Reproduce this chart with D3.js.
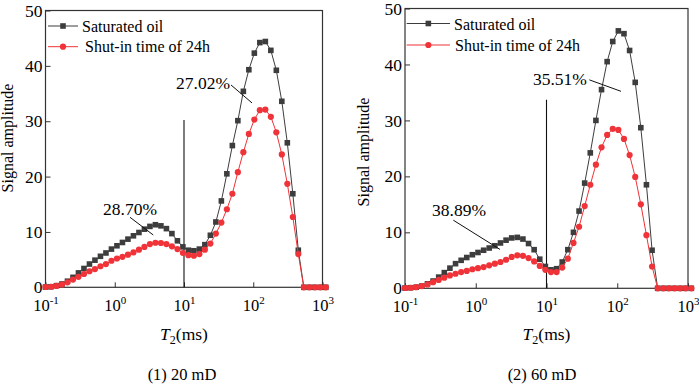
<!DOCTYPE html>
<html><head><meta charset="utf-8">
<script src="https://cdn.jsdelivr.net/npm/d3@7"></script>
<style>
body{margin:0;background:#fff}
svg{display:block}
svg text{font-family:"Liberation Serif","Tinos","Times New Roman","DejaVu Serif","Noto Serif",serif !important;fill:#000}
</style>
</head><body>
<svg id="chart" width="699" height="385" style="font-family:'Liberation Serif','DejaVu Serif',serif"></svg>
<script>
// ---- data ----
const t2 = [0.1,0.1201,0.1441,0.1730,0.2077,0.2494,0.2994,0.3594,0.4314,0.5179,0.6218,0.7464,0.8961,1.076,1.292,1.551,1.862,2.236,2.683,3.221,3.867,4.642,5.573,6.690,8.032,9.642,11.58,13.89,16.68,20.02,24.04,28.86,34.64,41.59,49.93,59.95,71.97,86.40,103.7,124.5,149.5,179.5,215.4,258.6,310.5,372.8,447.5,537.3,645.0,774.3,929.6,1116];
const sat20  = [0.05,0.1,0.3,0.6,1.1,1.8,2.6,3.4,4.2,4.9,5.6,6.2,6.9,7.5,8.1,8.7,9.3,9.9,10.5,11.0,11.3,11.1,10.6,9.7,8.4,7.3,6.7,6.6,6.9,7.7,9.4,11.8,15.6,20.5,25.6,30.1,35.4,39.3,42.3,44.2,44.4,42.8,39.2,33.6,26.1,16.9,6.7,0,0,0,0,0];
const shut20 = [0.05,0.1,0.25,0.5,0.9,1.4,1.9,2.4,2.9,3.3,3.8,4.2,4.8,5.2,5.5,5.9,6.3,6.8,7.3,7.8,8.05,8.0,7.8,7.4,6.9,6.2,5.8,5.7,6.0,6.8,7.9,9.7,11.7,14.1,16.9,20.8,24.4,27.7,30.3,32.0,32.1,30.8,28.0,24.0,18.7,12.7,6.0,0,0,0,0,0];
const sat60  = [0.05,0.1,0.2,0.4,0.8,1.3,2.0,2.8,3.6,4.4,5.0,5.5,6.0,6.4,6.8,7.2,7.6,8.1,8.6,9.0,9.1,8.8,8.0,6.9,5.2,3.9,3.3,3.5,4.7,6.9,10.0,13.8,18.8,24.2,30.0,35.5,40.5,44.1,46.0,45.5,42.5,36.8,28.7,18.5,6.8,0,0,0,0,0,0,0];
const shut60 = [0.05,0.1,0.2,0.4,0.7,1.1,1.5,1.9,2.3,2.6,2.9,3.1,3.4,3.6,3.8,4.1,4.4,4.7,5.1,5.6,5.9,5.8,5.4,4.8,4.0,3.3,2.9,2.9,3.7,5.3,8.1,11.0,14.7,18.5,22.1,25.2,27.4,28.5,28.3,26.7,23.8,19.9,15.0,9.5,3.9,0,0,0,0,0,0,0];
const seriesNames = ["Saturated oil","Shut-in time of 24h"];
const panelTitles = ["(1) 20 mD","(2) 60 mD"];
const yTicks = [0,10,20,30,40,50];
const xTickExps = [-1,0,1,2,3];
const yLabel = "Signal amplitude";
const cutoffT2 = 10;
const cutoffTop = [30.2, 33.7];
const annotLabels = [["28.70%","27.02%"],["38.89%","35.51%"]];
// annotation anchors in data units: [textT2, textVal, lineT2a, lineVa, lineT2b, lineVb]
const annotAnchors = [
  [[1.66,13.1,1.66,12.65,3.6,9.45],[18.8,35.8,47.7,36.55,96,33.3]],
  [[0.58,12.9,0.482,12.17,2.2,6.95],[15.5,36.4,40.3,37.25,113,35.2]]
];

// ---- layout ----
const FONT = "'Liberation Serif','Tinos','Times New Roman','DejaVu Serif',serif";
const svg = d3.select("#chart");
const colBlack = "#3d3d3d", colRed = "#ef3338";
const panels = [
  {x0:45.5, x1:322.5, yb:287.3, yt:10.5, sat:sat20, shut:shut20,
   leg:{l1:2.5, l2:32.5, tx1:36.5, tx2:39.5, y1:26, y2:46.7, b1:31.7, b2:52.3},
   ylab:{x:12.5, y:138}, title:{x:182, y:380}},
  {x0:405, x1:688, yb:288.3, yt:8.5, sat:sat60, shut:shut60,
   leg:{l1:1.7, l2:45, tx1:49, tx2:50, y1:23.5, y2:45, b1:29.5, b2:51},
   ylab:{x:369, y:152}, title:{x:542, y:380}}
];

panels.forEach((p, pi) => {
  const x = d3.scaleLog().domain([0.1, 1000]).range([p.x0, p.x1]);
  const y = d3.scaleLinear().domain([0, 50]).range([p.yb, p.yt]);
  const g = svg.append("g").style("font-family", FONT);

  // frame
  g.append("rect").attr("x", p.x0).attr("y", p.yt)
    .attr("width", p.x1 - p.x0).attr("height", p.yb - p.yt)
    .attr("fill", "none").attr("stroke", "#333").attr("stroke-width", 1.2);

  // y axis
  const ya = g.append("g").attr("transform", `translate(${p.x0},0)`)
    .call(d3.axisLeft(y).tickValues(yTicks).tickSizeInner(-5).tickSizeOuter(0).tickPadding(3));
  ya.attr("font-family", null).attr("font-size", null);
  ya.select(".domain").remove();
  ya.selectAll("line").attr("stroke", "#333");
  ya.selectAll("text").style("font-size", "17.5px").style("font-family", FONT).attr("fill", "#000");

  // x axis
  const xa = g.append("g").attr("transform", `translate(0,${p.yb})`)
    .call(d3.axisBottom(x).tickValues(xTickExps.map(e => Math.pow(10, e)))
      .tickSizeInner(-5).tickSizeOuter(0).tickFormat(() => ""));
  xa.attr("font-family", null).attr("font-size", null);
  xa.select(".domain").remove();
  xa.selectAll("line").attr("stroke", "#333");
  xa.selectAll(".tick").each(function(d, i) {
    const t = d3.select(this).select("text")
      .attr("y", 24).attr("dy", 0).style("font-family", FONT).attr("fill", "#000");
    t.text(null);
    t.append("tspan").style("font-size", "16.5px").text("10");
    t.append("tspan").style("font-size", "11px").attr("dy", -7).text(String(xTickExps[i]));
  });

  // x label
  const xl = g.append("text").attr("x", (p.x0 + p.x1) / 2).attr("y", 340)
    .attr("text-anchor", "middle").style("font-size", "17.5px");
  xl.append("tspan").style("font-style", "italic").text("T");
  xl.append("tspan").style("font-size", "12px").attr("dy", 4).text("2");
  xl.append("tspan").attr("dy", -4).text("(ms)");

  // y label
  g.append("text").attr("transform", `translate(${p.ylab.x},${p.ylab.y}) rotate(-90)`)
    .attr("text-anchor", "middle").style("font-size", "16px").text(yLabel);

  // panel title
  g.append("text").attr("x", p.title.x).attr("y", p.title.y)
    .attr("text-anchor", "middle").style("font-size", "16.5px").text(panelTitles[pi]);

  // cutoff line
  g.append("line").attr("x1", x(cutoffT2)).attr("x2", x(cutoffT2))
    .attr("y1", y(0)).attr("y2", y(cutoffTop[pi]))
    .attr("stroke", "#111").attr("stroke-width", 1.1);

  // series
  const line = d3.line().x((d, i) => x(t2[i])).y(d => y(d));
  const sat = p.sat, shut = p.shut;
  g.append("path").attr("d", line(sat)).attr("fill", "none").attr("stroke", colBlack).attr("stroke-width", 1);
  g.append("g").selectAll("rect").data(sat).join("rect")
    .attr("x", (d, i) => x(t2[i]) - 2.8).attr("y", d => y(d) - 2.8)
    .attr("width", 5.6).attr("height", 5.6).attr("fill", colBlack);
  g.append("path").attr("d", line(shut)).attr("fill", "none").attr("stroke", colRed).attr("stroke-width", 1);
  g.append("g").selectAll("circle").data(shut).join("circle")
    .attr("cx", (d, i) => x(t2[i])).attr("cy", d => y(d)).attr("r", 3.1).attr("fill", colRed);

  // annotations
  annotLabels[pi].forEach((lab, k) => {
    const a = annotAnchors[pi][k];
    g.append("text").attr("x", x(a[0])).attr("y", y(a[1]))
      .attr("text-anchor", "middle").style("font-size", "17.5px").text(lab);
    g.append("line").attr("x1", x(a[2])).attr("y1", y(a[3]))
      .attr("x2", x(a[4])).attr("y2", y(a[5])).attr("stroke", "#111").attr("stroke-width", 1);
  });

  // legend
  const L = p.leg;
  g.append("line").attr("x1", p.x0 + L.l1).attr("x2", p.x0 + L.l2).attr("y1", L.y1).attr("y2", L.y1)
    .attr("stroke", colBlack).attr("stroke-width", 1);
  g.append("rect").attr("x", p.x0 + (L.l1 + L.l2) / 2 - 2.8).attr("y", L.y1 - 2.8)
    .attr("width", 5.6).attr("height", 5.6).attr("fill", colBlack);
  g.append("text").attr("x", p.x0 + L.tx1).attr("y", L.b1).style("font-size", "16px").text(seriesNames[0]);
  g.append("line").attr("x1", p.x0 + L.l1).attr("x2", p.x0 + L.l2).attr("y1", L.y2).attr("y2", L.y2)
    .attr("stroke", colRed).attr("stroke-width", 1);
  g.append("circle").attr("cx", p.x0 + (L.l1 + L.l2) / 2).attr("cy", L.y2).attr("r", 3.1).attr("fill", colRed);
  g.append("text").attr("x", p.x0 + L.tx2).attr("y", L.b2).style("font-size", "16px").text(seriesNames[1]);
});
</script>
</body></html>
